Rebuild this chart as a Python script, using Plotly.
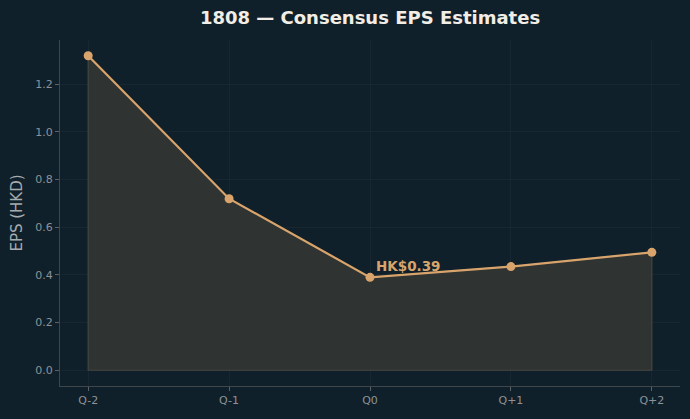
import plotly.graph_objects as go

quarters = ["Q-2", "Q-1", "Q0", "Q+1", "Q+2"]
eps = [1.32, 0.72, 0.39, 0.435, 0.495]
label_text = "HK$0.39"

xs = list(range(len(quarters)))
BG = "#10202a"
LINE = "#d9a46c"
TICK = "#8c9297"
GRID = "rgba(60,75,82,0.16)"

fig = go.Figure()
fig.add_trace(go.Scatter(
    x=xs + [xs[-1], xs[0], xs[0]],
    y=eps + [0, 0, eps[0]],
    fill="toself", fillcolor="rgba(58,57,52,0.75)",
    line=dict(color="#45463f", width=1.2),
    mode="lines", hoverinfo="skip", showlegend=False))
fig.add_trace(go.Scatter(
    x=xs, y=eps, mode="lines+markers",
    line=dict(color=LINE, width=2.2),
    marker=dict(color=LINE, size=9),
    showlegend=False))
fig.add_annotation(x=2, y=eps[2], text="<b>" + label_text + "</b>",
                   showarrow=False, xanchor="left", yanchor="bottom",
                   xshift=4, yshift=1, font=dict(color=LINE, size=13.5, family="DejaVu Sans"))

fig.update_layout(
    width=690, height=419,
    paper_bgcolor=BG, plot_bgcolor=BG,
    margin=dict(l=60, r=10, t=40, b=33),
    font=dict(family="DejaVu Sans", color=TICK, size=11),
    title=dict(text="<b>1808 — Consensus EPS Estimates</b>", x=0.5, xref="paper", xanchor="center",
               y=0.957, yanchor="middle", font=dict(color="#f2eee6", size=18, family="DejaVu Sans")),
    xaxis=dict(range=[-0.2, 4.2], tickmode="array", tickvals=xs, ticktext=quarters,
               showgrid=True, gridcolor=GRID, gridwidth=1,
               zeroline=False, showline=True, linecolor="#3e474c", linewidth=1,
               ticks="outside", ticklen=4, tickcolor="#5a6267", tickfont=dict(color=TICK, size=11)),
    yaxis=dict(range=[-0.066, 1.386], tickmode="array",
               tickvals=[0, 0.2, 0.4, 0.6, 0.8, 1.0, 1.2],
               ticktext=["0.0", "0.2", "0.4", "0.6", "0.8", "1.0", "1.2"],
               showgrid=True, gridcolor=GRID, gridwidth=1,
               zeroline=False, showline=True, linecolor="#3e474c", linewidth=1,
               ticks="outside", ticklen=4, tickcolor="#5a6267", tickfont=dict(color=TICK, size=11),
               title=dict(text="EPS (HKD)", font=dict(color="#a6abae", size=15), standoff=9)),
)
fig.write_html("out.html")
